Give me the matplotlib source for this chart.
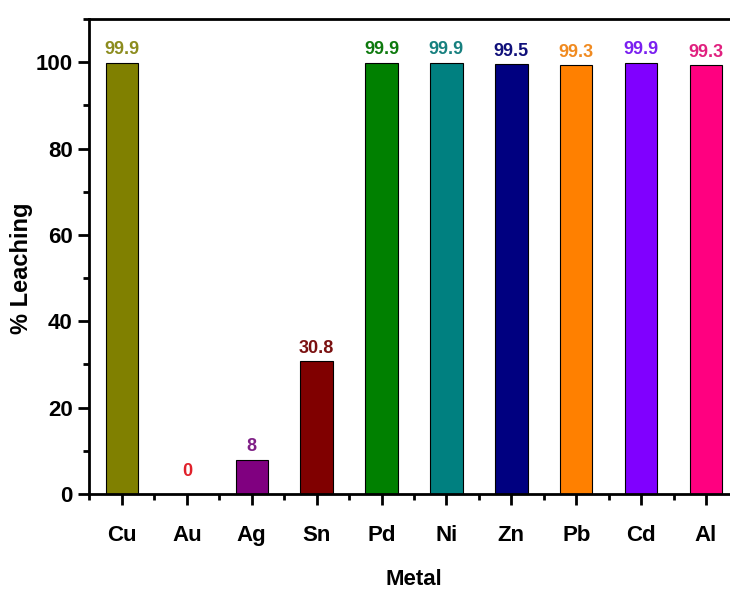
import matplotlib.pyplot as plt
from matplotlib.ticker import MultipleLocator, FixedLocator

plt.rcParams["font.family"] = ["Liberation Sans", "DejaVu Sans"]
plt.rcParams["font.weight"] = "bold"

# data
metals = ["Cu", "Au", "Ag", "Sn", "Pd", "Ni", "Zn", "Pb", "Cd", "Al"]
leaching = [99.9, 0, 8, 30.8, 99.9, 99.9, 99.5, 99.3, 99.9, 99.3]
bar_colors = ["#808000", "#FF0000", "#800080", "#800000", "#008000",
              "#008080", "#000080", "#FF8000", "#8000FF", "#FF0080"]
label_colors = ["#8C8C1E", "#E0202A", "#7F1F86", "#7A1010", "#0E7A0E",
                "#17807F", "#10107A", "#F08A20", "#7A1FF0", "#E0207F"]

fig = plt.figure(figsize=(7.3, 5.91), dpi=100)
# axes runs a bit past the right edge, like the cropped original
ax = fig.add_axes([0.1226, 0.164, 0.889, 0.804])

x = range(len(metals))
ax.bar(x, leaching, width=0.5, color=bar_colors, edgecolor="black", linewidth=0.8)

for i, v in enumerate(leaching):
    off = 3 if v > 0 else 10
    ax.annotate("{:g}".format(v), xy=(i, v), xytext=(0, off),
                textcoords="offset points", ha="center", va="bottom",
                color=label_colors[i], fontsize=13, fontweight="bold",
                annotation_clip=False)

ax.set_xlim(-0.5, 9.5)
ax.set_ylim(0, 110)
ax.set_xticks(list(x))
ax.set_xticklabels(metals)
ax.xaxis.set_minor_locator(FixedLocator([i - 0.5 for i in range(len(metals) + 1)]))
ax.yaxis.set_major_locator(MultipleLocator(20))
ax.yaxis.set_minor_locator(MultipleLocator(10))

ax.spines["right"].set_visible(False)
for s in ["left", "bottom", "top"]:
    ax.spines[s].set_linewidth(2)

ax.tick_params(axis="both", which="major", direction="out", length=8, width=2,
               labelsize=16)
ax.tick_params(axis="both", which="minor", direction="out", length=4, width=2)
ax.tick_params(axis="x", which="major", pad=14)
ax.tick_params(axis="y", which="major", pad=4)
ax.tick_params(axis="x", which="both", top=False)

ax.set_ylabel("% Leaching", fontsize=17, fontweight="bold")
ax.yaxis.set_label_coords(-0.087, 0.475)
ax.set_xlabel("Metal", fontsize=16, fontweight="bold", labelpad=17)

fig.savefig("out.png", dpi=100)
